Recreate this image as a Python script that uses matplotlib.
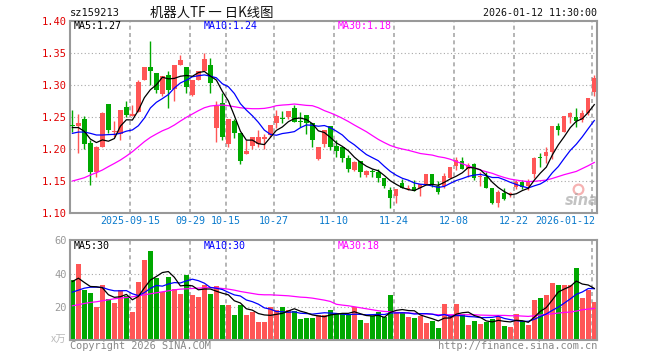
import matplotlib
matplotlib.use('Agg')
import matplotlib.pyplot as plt
import matplotlib.transforms as mtransforms
import numpy as np

# ---------------- data ----------------
tick_idx = [10, 20, 26, 34, 44, 54, 64, 74, 87]
tick_labels = ['2025-09-15', '09-29', '10-15', '10-27', '11-10', '11-24', '12-08', '12-22', '2026-01-12']

opens = [1.237, 1.2354, 1.246, 1.209, 1.1635, 1.202, 1.270, 1.226, 1.223, 1.265,
         1.251, 1.258, 1.308, 1.328, 1.318, 1.285, 1.315, 1.293, 1.331, 1.327,
         1.284, 1.308, 1.321, 1.331, 1.232, 1.272, 1.207, 1.243, 1.224, 1.192,
         1.205, 1.208, 1.2156, 1.221, 1.2406, 1.2475, 1.250, 1.263, 1.2425, 1.252,
         1.2396, 1.1844, 1.207, 1.235, 1.205, 1.203, 1.185, 1.1667, 1.181, 1.159,
         1.1645, 1.164, 1.1547, 1.1354, 1.126, 1.1458, 1.137, 1.1406, 1.139, 1.1448,
         1.160, 1.1422, 1.1422, 1.1547, 1.173, 1.181, 1.169, 1.176, 1.1555, 1.156,
         1.139, 1.1146, 1.131, 1.1286, 1.140, 1.148, 1.1417, 1.1604, 1.1865, 1.1885,
         1.1943, 1.2354, 1.2266, 1.250, 1.250, 1.2448, 1.2552, 1.288]
highs = [1.260, 1.254, 1.251, 1.2135, 1.204, 1.257, 1.270, 1.243, 1.260, 1.274,
         1.268, 1.307, 1.328, 1.368, 1.318, 1.3135, 1.322, 1.331, 1.3464, 1.327,
         1.307, 1.321, 1.350, 1.341, 1.274, 1.2865, 1.246, 1.246, 1.224, 1.2135,
         1.219, 1.230, 1.2224, 1.237, 1.260, 1.259, 1.259, 1.2677, 1.2578, 1.252,
         1.2396, 1.203, 1.230, 1.235, 1.2135, 1.203, 1.190, 1.1813, 1.181, 1.1667,
         1.1688, 1.1682, 1.1547, 1.1406, 1.137, 1.1526, 1.1432, 1.151, 1.1448, 1.160,
         1.160, 1.150, 1.1625, 1.1719, 1.1865, 1.1865, 1.1781, 1.1781, 1.164, 1.164,
         1.139, 1.1354, 1.138, 1.1328, 1.151, 1.151, 1.152, 1.1875, 1.1927, 1.2026,
         1.2354, 1.2396, 1.251, 1.258, 1.263, 1.2604, 1.2786, 1.315]
lows = [1.226, 1.194, 1.200, 1.1438, 1.156, 1.202, 1.225, 1.219, 1.2135, 1.249,
        1.251, 1.258, 1.307, 1.299, 1.2865, 1.283, 1.264, 1.275, 1.331, 1.2875,
        1.2823, 1.308, 1.321, 1.2875, 1.211, 1.2135, 1.203, 1.216, 1.176, 1.192,
        1.200, 1.202, 1.1995, 1.219, 1.232, 1.2396, 1.247, 1.242, 1.2333, 1.2224,
        1.202, 1.182, 1.203, 1.198, 1.1875, 1.1797, 1.163, 1.1656, 1.1563, 1.1563,
        1.1563, 1.1484, 1.138, 1.1078, 1.1146, 1.139, 1.1354, 1.1344, 1.1266, 1.1427,
        1.1406, 1.1286, 1.138, 1.1547, 1.1667, 1.1688, 1.156, 1.151, 1.142, 1.139,
        1.1135, 1.109, 1.120, 1.125, 1.1375, 1.1365, 1.135, 1.1536, 1.1708, 1.1776,
        1.1833, 1.222, 1.2266, 1.2396, 1.234, 1.2422, 1.2526, 1.2828]
closes = [1.235, 1.2396, 1.207, 1.1635, 1.203, 1.256, 1.229, 1.228, 1.260, 1.253,
          1.254, 1.305, 1.327, 1.322, 1.291, 1.3135, 1.292, 1.331, 1.3385, 1.297,
          1.307, 1.321, 1.340, 1.302, 1.266, 1.219, 1.246, 1.225, 1.181, 1.196,
          1.219, 1.218, 1.218, 1.237, 1.251, 1.246, 1.259, 1.242, 1.2415, 1.2396,
          1.2135, 1.203, 1.229, 1.203, 1.197, 1.186, 1.169, 1.179, 1.164, 1.1656,
          1.164, 1.1547, 1.142, 1.1234, 1.137, 1.139, 1.139, 1.1344, 1.1448, 1.160,
          1.1427, 1.1328, 1.1573, 1.1708, 1.182, 1.169, 1.1745, 1.1536, 1.1565, 1.139,
          1.1146, 1.1328, 1.122, 1.131, 1.1474, 1.140, 1.150, 1.186, 1.1855, 1.1943,
          1.2354, 1.229, 1.251, 1.2552, 1.2432, 1.2563, 1.2786, 1.311]
ma5 = [1.233, 1.233, 1.227, 1.215, 1.2096, 1.2138, 1.2117, 1.2159, 1.2352, 1.2452,
       1.2448, 1.260, 1.2798, 1.2922, 1.2998, 1.3117, 1.3091, 1.3099, 1.3132, 1.3144,
       1.3131, 1.3189, 1.3207, 1.3134, 1.3072, 1.2896, 1.2746, 1.2516, 1.2274, 1.2134,
       1.2134, 1.2078, 1.2064, 1.2176, 1.2286, 1.234, 1.2422, 1.247, 1.2479, 1.2456,
       1.2391, 1.2279, 1.2253, 1.2176, 1.2091, 1.2036, 1.1968, 1.1868, 1.179, 1.1727,
       1.1683, 1.1655, 1.1581, 1.1499, 1.1442, 1.1392, 1.1361, 1.1346, 1.139, 1.1434,
       1.1442, 1.1429, 1.1475, 1.1527, 1.1571, 1.1624, 1.1707, 1.170, 1.1671, 1.1585,
       1.1476, 1.1393, 1.133, 1.1279, 1.1296, 1.1346, 1.1381, 1.1509, 1.1618, 1.1712,
       1.1902, 1.206, 1.219, 1.233, 1.2428, 1.2469, 1.2569, 1.2689]
ma10 = [1.224, 1.226, 1.226, 1.224, 1.2214, 1.2214, 1.222, 1.2224, 1.224, 1.2274,
        1.2293, 1.2359, 1.2479, 1.2637, 1.2725, 1.2783, 1.2846, 1.2949, 1.3027, 1.3071,
        1.3124, 1.314, 1.3153, 1.3133, 1.3108, 1.3014, 1.2968, 1.2862, 1.2704, 1.2603,
        1.2515, 1.2412, 1.229, 1.2225, 1.221, 1.2237, 1.225, 1.2267, 1.2328, 1.2371,
        1.2366, 1.2351, 1.2362, 1.2328, 1.2274, 1.2214, 1.2124, 1.2061, 1.1983, 1.1909,
        1.186, 1.1812, 1.1725, 1.1645, 1.1585, 1.1538, 1.1508, 1.1464, 1.1445, 1.1438,
        1.1417, 1.1395, 1.1411, 1.1459, 1.1503, 1.1533, 1.1568, 1.1588, 1.1599, 1.1578,
        1.155, 1.155, 1.1515, 1.1475, 1.1441, 1.1411, 1.1387, 1.142, 1.1449, 1.1504,
        1.1624, 1.1721, 1.185, 1.1974, 1.207, 1.2186, 1.2315, 1.244]
ma30 = [1.1495, 1.152, 1.1547, 1.1589, 1.1625, 1.1667, 1.172, 1.177, 1.1823, 1.1885,
        1.1953, 1.2031, 1.211, 1.2177, 1.223, 1.228, 1.2318, 1.237, 1.2432, 1.249,
        1.2542, 1.2594, 1.264, 1.2667, 1.2677, 1.2682, 1.2672, 1.2656, 1.264, 1.263,
        1.2625, 1.2625, 1.263, 1.2646, 1.2672, 1.2682, 1.2688, 1.2698, 1.2688, 1.2677,
        1.2672, 1.264, 1.2595, 1.256, 1.252, 1.2475, 1.2425, 1.237, 1.2318, 1.2266,
        1.2205, 1.2145, 1.2095, 1.205, 1.2018, 1.1995, 1.1975, 1.195, 1.1925, 1.1912,
        1.190, 1.1875, 1.186, 1.1835, 1.180, 1.1765, 1.173, 1.170, 1.1667, 1.164,
        1.1615, 1.158, 1.155, 1.1525, 1.151, 1.1495, 1.1486, 1.149, 1.150, 1.151,
        1.1535, 1.1565, 1.1595, 1.162, 1.1645, 1.169, 1.1735, 1.1785]
volumes = [36.2, 45.8, 30.2, 28.4, 19.6, 33.2, 24.8, 22.4, 30.2, 26.6,
           17, 35, 48.2, 53.6, 37.4, 28.8, 38, 30.8, 27.8, 39.2,
           27.2, 26, 33.2, 27.8, 32.6, 21.2, 21.2, 15.2, 21.2, 15.2,
           17, 11, 11, 20, 18.2, 20, 18.2, 17.6, 12.8, 13.4,
           13.4, 15.2, 15.2, 18.2, 15.8, 15.8, 15.2, 20, 12.2, 10.4,
           14.6, 17, 14, 27.2, 16.4, 17, 14, 13.4, 14.6, 10.4,
           11.6, 7.4, 21.8, 15.2, 21.8, 15.8, 9.2, 11.6, 9.8, 11,
           12.8, 14, 8.6, 8, 15.8, 11.6, 9.2, 24.2, 25.4, 27.2,
           34.4, 33.2, 33.2, 33.2, 43.4, 25.4, 30.2, 23]
vma5 = [35.2, 37.2, 34.6, 32.2, 32.04, 31.44, 27.24, 25.68, 26.04, 27.44,
        24.2, 26.24, 31.4, 36.08, 38.24, 40.6, 41.2, 37.72, 32.56, 32.92,
        32.6, 30.2, 30.68, 30.68, 29.36, 28.16, 27.2, 23.6, 22.28, 18.8,
        17.96, 15.92, 15.08, 14.84, 15.44, 16.04, 17.48, 18.8, 17.36, 16.4,
        15.08, 14.48, 14.0, 15.08, 15.56, 16.04, 16.04, 17.0, 15.8, 14.72,
        14.48, 14.84, 13.64, 16.64, 17.84, 18.32, 17.72, 17.6, 15.08, 13.88,
        12.8, 11.48, 13.16, 13.28, 15.56, 16.4, 16.76, 14.72, 13.64, 11.48,
        10.88, 11.84, 11.24, 10.88, 11.84, 11.6, 10.64, 13.76, 17.24, 19.52,
        24.08, 28.88, 30.68, 32.24, 35.48, 33.68, 33.08, 31.04]
vma10 = [28.8, 30.0, 31.2, 31.8, 31.8, 31.6, 30.4, 29.6, 29.6, 29.74,
         27.82, 26.74, 28.54, 31.06, 32.84, 32.4, 33.72, 34.56, 34.32, 35.58,
         36.6, 35.7, 34.2, 31.62, 31.14, 30.38, 28.7, 27.14, 26.48, 24.08,
         23.06, 21.56, 19.34, 18.56, 17.12, 17.0, 16.7, 16.94, 16.1, 15.92,
         15.56, 15.98, 16.4, 16.22, 15.98, 15.56, 15.26, 15.5, 15.44, 15.14,
         15.26, 15.44, 15.32, 16.22, 16.28, 16.4, 16.28, 15.62, 15.86, 15.86,
         15.56, 14.6, 15.38, 14.18, 14.72, 14.6, 14.12, 13.94, 13.46, 13.52,
         13.64, 14.3, 12.98, 12.26, 11.66, 11.24, 11.24, 12.5, 14.06, 15.68,
         17.84, 19.76, 22.22, 24.74, 27.5, 28.88, 30.98, 30.86]
vma30 = [20.6, 21.2, 22.0, 22.6, 23.0, 23.6, 24.2, 24.8, 25.2, 25.6,
         26.0, 26.6, 27.2, 27.8, 28.4, 29.0, 29.6, 30.2, 30.6, 30.8,
         31.0, 31.2, 31.4, 31.6, 31.4, 31.0, 30.6, 30.0, 29.2, 28.6,
         28.0, 27.4, 27.2, 27.2, 27.0, 26.8, 26.6, 26.2, 25.8, 25.6,
         25.2, 24.6, 24.0, 23.2, 21.5, 21.0, 20.6, 20.0, 19.4, 18.8,
         18.2, 17.6, 17.2, 17.0, 16.6, 16.4, 16.2, 16.0, 15.8, 15.7,
         15.5, 15.2, 15.2, 15.2, 15.2, 15.2, 15.2, 15.2, 15.0, 14.9,
         14.8, 14.8, 14.8, 14.6, 14.6, 14.4, 14.2, 14.6, 15.0, 15.4,
         15.8, 16.2, 16.6, 16.8, 17.4, 18.2, 18.6, 19.0]
price_ticks = [1.10, 1.15, 1.20, 1.25, 1.30, 1.35, 1.40]
vol_ticks = [20, 40, 60]

# ---------------- style ----------------
RED = '#FF5656'
GREEN = '#00A800'
GRID = '#A8A8A8'
FRAME = '#999999'
XLBL = '#0A7ACC'
MONO = 'DejaVu Sans Mono'
CJK = ['Noto Sans CJK SC', 'DejaVu Sans']
FS = 7.2

fig = plt.figure(figsize=(6.6, 3.6), dpi=100)
fig.patch.set_facecolor('white')

ax = fig.add_axes([70 / 660, 1 - 212.7 / 360, 527 / 660, 192 / 360])
axv = fig.add_axes([70 / 660, 1 - 340 / 360, 527 / 660, 99.7 / 360])

idx = np.arange(len(closes))
o = np.array(opens); c = np.array(closes); h = np.array(highs); l = np.array(lows)
up = c >= o
colors = [RED if u else GREEN for u in up]

for a in (ax, axv):
    a.set_xlim(-0.4, 87.45)
    for s in a.spines.values():
        s.set_color(FRAME)
        s.set_linewidth(1.5)
    a.set_xticks([])
    a.tick_params(axis='y', length=0, pad=2.5)
    for t in tick_idx:
        a.axvline(t - 0.35, color=GRID, lw=1.2, linestyle=(0, (2.4, 2.0)), zorder=0)

# price panel
ax.set_ylim(1.10, 1.40)
ax.set_yticks(price_ticks)
ax.set_yticklabels(['%.2f' % v for v in price_ticks], color='#E00000', fontfamily=MONO, fontsize=FS + 0.3)
for v in price_ticks[1:-1]:
    ax.axhline(v, color=GRID, lw=0.8, linestyle=(0, (1, 2.2)), zorder=0)

ax.vlines(idx, l, h, colors=colors, lw=1.0, zorder=2)
bodies = np.maximum(np.abs(c - o), 0.0012)
ax.bar(idx, bodies, bottom=np.minimum(o, c), width=0.72, color=colors, linewidth=0, zorder=3)

ax.plot(idx, ma30, color='#FF00FF', lw=0.9, zorder=4)
ax.plot(idx, ma10, color='#0000FF', lw=0.9, zorder=4)
ax.plot(idx, ma5, color='black', lw=0.9, zorder=4)

ax.text(0.0076, 0.972, 'MA5:%.2f' % ma5[-1], transform=ax.transAxes, color='black',
        fontfamily=MONO, fontsize=FS, va='center', ha='left')
ax.text(0.254, 0.972, 'MA10:%.2f' % ma10[-1], transform=ax.transAxes, color='#0000FF',
        fontfamily=MONO, fontsize=FS, va='center', ha='left')
ax.text(0.507, 0.972, 'MA30:%.2f' % ma30[-1], transform=ax.transAxes, color='#FF00FF',
        fontfamily=MONO, fontsize=FS, va='center', ha='left')

# x labels
trans = mtransforms.blended_transform_factory(ax.transData, ax.transAxes)
for t, lab in zip(tick_idx, tick_labels):
    if t == tick_idx[-1]:
        ax.text(87.1, -0.044, lab, transform=trans, ha='right', va='center',
                color=XLBL, fontfamily=MONO, fontsize=FS)
    else:
        ax.text(t - 0.35, -0.044, lab, transform=trans, ha='center', va='center',
                color=XLBL, fontfamily=MONO, fontsize=FS)

# sina watermark
ax.plot([0.963], [0.125], 'o', transform=ax.transAxes, ms=7, mfc='none', mec='#F08080',
        mew=1.6, alpha=0.6, zorder=1)
ax.text(0.972, 0.062, 'sina', transform=ax.transAxes, ha='center', va='center',
        color='#AAAAAA', fontsize=10.5, fontweight='bold', fontstyle='italic', alpha=0.7, zorder=1)

# volume panel
axv.set_ylim(0, 60)
axv.set_yticks(vol_ticks)
axv.set_yticklabels([str(v) for v in vol_ticks], color='#999999', fontfamily=MONO, fontsize=FS + 0.3)
for v in vol_ticks[:-1]:
    axv.axhline(v, color=GRID, lw=0.8, linestyle=(0, (1, 2.2)), zorder=0)
axv.bar(idx, volumes, width=0.82, color=colors, linewidth=0, zorder=2)
axv.plot(idx, vma30, color='#FF00FF', lw=0.9, zorder=4)
axv.plot(idx, vma10, color='#0000FF', lw=0.9, zorder=4)
axv.plot(idx, vma5, color='black', lw=0.9, zorder=4)
axv.text(0.0076, 0.94, 'MA5:30', transform=axv.transAxes, color='black',
         fontfamily=MONO, fontsize=FS, va='center', ha='left')
axv.text(0.254, 0.94, 'MA10:30', transform=axv.transAxes, color='#0000FF',
         fontfamily=MONO, fontsize=FS, va='center', ha='left')
axv.text(0.507, 0.94, 'MA30:18', transform=axv.transAxes, color='#FF00FF',
         fontfamily=MONO, fontsize=FS, va='center', ha='left')

# header / footer texts
fig.text(70 / 660, 1 - 13.3 / 360, 'sz159213', fontfamily=MONO, fontsize=FS + 0.3,
         color='#111111', ha='left', va='center')
fig.text(150.5 / 660, 1 - 13.3 / 360, '机器人TF 一 日K线图', family=CJK, fontsize=9.6,
         color='#111111', ha='left', va='center')
fig.text(597 / 660, 1 - 13.3 / 360, '2026-01-12 11:30:00', fontfamily=MONO, fontsize=FS,
         color='#111111', ha='right', va='center')
fig.text(70 / 660, 1 - 346 / 360, 'Copyright 2026 SINA.COM', fontfamily=MONO, fontsize=FS + 0.2,
         color='#888888', ha='left', va='center')
fig.text(597 / 660, 1 - 346 / 360, 'http://finance.sina.com.cn', fontfamily=MONO, fontsize=FS + 0.2,
         color='#888888', ha='right', va='center')
fig.text(66 / 660, 1 - 340 / 360, 'x万', family=CJK, fontsize=7.5,
         color='#BBBBBB', ha='right', va='center')

fig.savefig('out.png', dpi=100, facecolor='white')
